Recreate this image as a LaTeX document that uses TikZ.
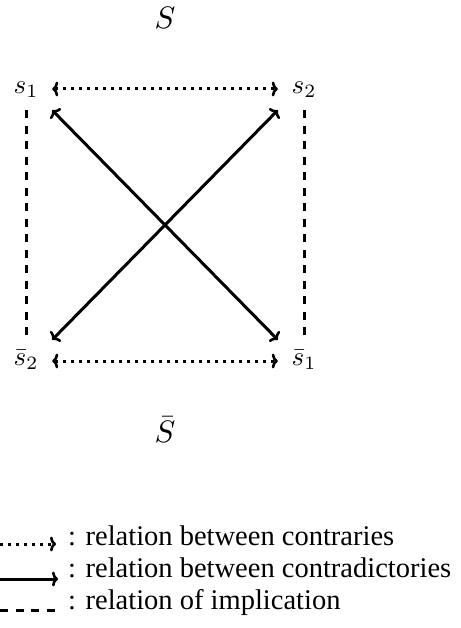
\documentclass[tikz,border=0pt]{standalone}
\usepackage{fontspec}
\newfontfamily\legendfont{Liberation Serif}
\usetikzlibrary{arrows.meta}
\newcommand\cornerlabel[1]{\scalebox{2.7}{$#1$}}
\newcommand\setlabel[1]{\scalebox{3.1}{$#1$}}
\tikzset{barb/.tip={Computer Modern Rightarrow[length=6pt,width=15pt,line width=2.6pt]}}
\begin{document}
\begin{tikzpicture}[x=1pt,y=-1pt,
  corner/.style={inner sep=0pt,minimum width=52pt,minimum height=42pt,
    text height=15pt,text depth=6pt},
  contrary/.style={line width=3pt,dash pattern=on 3pt off 5pt},
  contradiction/.style={line width=3pt},
  implication/.style={line width=3pt,dash pattern=on 8pt off 7.5pt},
  legend/.style={anchor=base west,inner sep=0pt,font=\legendfont\fontsize{28.5}{34}\selectfont}]
\useasboundingbox (0,0) rectangle (460,628);

\node[anchor=base,inner sep=0pt] (S) at (165,29) {\setlabel{S}};
\node[anchor=base,inner sep=0pt] (Sbar) at (165,442) {\setlabel{\bar{S}}};

\node[corner] (s1) at (26,89) {\cornerlabel{s_1}};
\node[corner] (s2) at (304,89) {\cornerlabel{s_2}};
\node[corner] (s2bar) at (26,361) {\cornerlabel{\bar{s}_2}};
\node[corner] (s1bar) at (304,361) {\cornerlabel{\bar{s}_1}};

\draw[contrary,barb-barb] (s1.east) -- (s2.west);
\draw[contrary,barb-barb] (s2bar.east) -- (s1bar.west);
\draw[contradiction,barb-barb] (s1.south east) -- (s1bar.north west);
\draw[contradiction,barb-barb] (s2.south west) -- (s2bar.north east);
\draw[implication] (s1.south) -- (s2bar.north);
\draw[implication] (s2.south) -- (s1bar.north);

\coordinate (a0) at (0,544);
\coordinate (a1) at (56,544);
\coordinate (b0) at (0,579);
\coordinate (b1) at (58,579);
\coordinate (c0) at (0,610);
\coordinate (c1) at (57,610);
\draw[contrary,-barb] (a0) -- (a1);
\draw[contradiction,-barb] (b0) -- (b1);
\draw[implication] (c0) -- (c1);

\node[legend] (la) at (68,545) {: relation between contraries};
\node[legend] (lb) at (68,577) {: relation between contradictories};
\node[legend] (lc) at (68,609) {: relation of implication};
\end{tikzpicture}
\end{document}
